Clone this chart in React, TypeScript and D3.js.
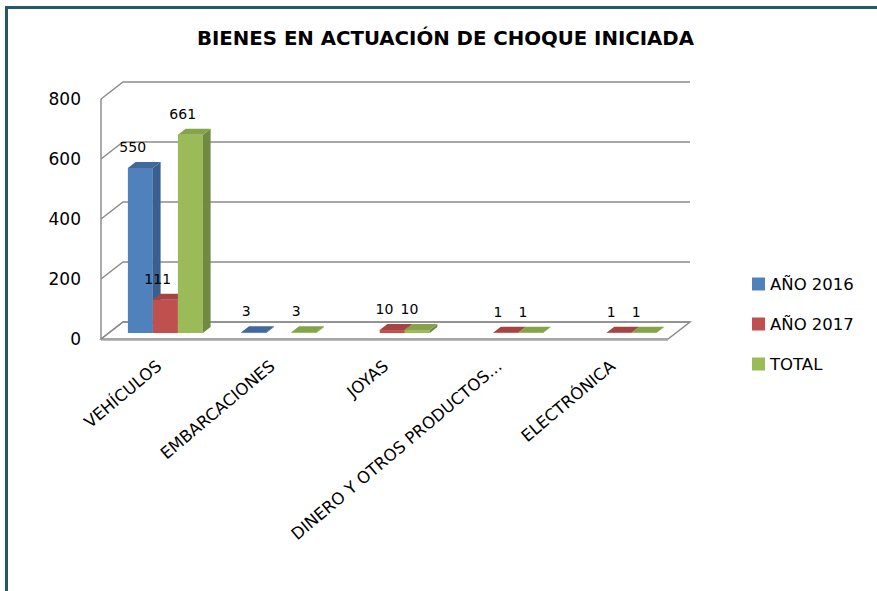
import { useRef, useEffect } from "react"
import * as d3 from "d3"

const categories = ["VEHÍCULOS", "EMBARCACIONES", "JOYAS", "DINERO Y OTROS PRODUCTOS...", "ELECTRÓNICA"]
const seriesNames = ["AÑO 2016", "AÑO 2017", "TOTAL"]
const values2016: (number | null)[] = [550, 3, null, null, null]
const values2017: (number | null)[] = [111, null, 10, 1, 1]
const valuesTotal: (number | null)[] = [661, 3, 10, 1, 1]
const yTicks = [0, 200, 400, 600, 800]
const chartTitle = "BIENES  EN  ACTUACIÓN  DE  CHOQUE  INICIADA"

// front, side, top shades per series
const palette = [
  ["#4F81BD", "#3A5F8C", "#41699C"],
  ["#C0504D", "#8E3B39", "#A54441"],
  ["#9BBB59", "#718A41", "#86A34B"],
]

export default function App() {
  const svgRef = useRef<SVGSVGElement>(null)

  function drawChart() {
    const width = 877
    const height = 591
    const fontFamily = "'DejaVu Sans', sans-serif"
    const series = [values2016, values2017, valuesTotal]

    const svg = d3.select(svgRef.current).attr("width", width).attr("height", height)
    svg.selectAll("*").remove()

    const depthX = 22
    const depthY = -17
    const x = d3.scaleBand<string>().domain(categories).range([101, 668])
    const y = d3.scaleLinear().domain([0, 800]).range([339, 99])
    const pt = (px: number, v: number, d: number) => [px + depthX * d, y(v) + depthY * d]
    const poly = (pts: number[][]) => "M" + pts.map((p) => p.join(",")).join("L") + "Z"

    svg.append("rect").attr("width", width).attr("height", height).attr("fill", "#fff")

    // frame
    svg
      .append("path")
      .attr("d", `M6.5,${height} V7.5 H${width}`)
      .attr("fill", "none")
      .attr("stroke", "#24596B")
      .attr("stroke-width", 3)

    // title
    svg
      .append("text")
      .text(chartTitle)
      .attr("x", 197)
      .attr("y", 45)
      .attr("textLength", 497)
      .attr("lengthAdjust", "spacingAndGlyphs")
      .style("font-size", "20px")
      .style("font-weight", "bold")
      .style("font-family", fontFamily)
      .attr("fill", "#000")

    // floor
    svg
      .append("path")
      .attr("d", poly([pt(101, 0, 0), pt(101, 0, 1), pt(668, 0, 1), pt(668, 0, 0)]))
      .attr("fill", "#fff")
      .attr("stroke", "#8c8c8c")
      .attr("stroke-width", 1.5)
    svg
      .append("line")
      .attr("x1", 101)
      .attr("x2", 668)
      .attr("y1", y(0) + 1)
      .attr("y2", y(0) + 1)
      .attr("stroke", "#a6a6a6")
      .attr("stroke-width", 1.5)

    // walls and gridlines
    const grid = svg.append("g").attr("stroke", "#8c8c8c").attr("stroke-width", 1.5).attr("fill", "none")
    grid.append("line").attr("x1", 101).attr("x2", 101).attr("y1", y(0)).attr("y2", y(800))
    grid
      .selectAll("path")
      .data(yTicks)
      .enter()
      .append("path")
      .attr("d", (v) => {
        const a = pt(101, v, 0)
        const b = pt(101, v, 1)
        const c = pt(668, v, 1)
        return `M${a}L${b}L${c}`
      })

    // y axis labels
    svg
      .append("g")
      .selectAll("text")
      .data(yTicks)
      .enter()
      .append("text")
      .text((d) => d)
      .attr("x", 81)
      .attr("y", (d) => y(d))
      .attr("dy", "0.36em")
      .attr("text-anchor", "end")
      .style("font-size", "17px")
      .style("font-family", fontFamily)
      .attr("fill", "#000")

    // bars
    const barW = 25
    const d0 = 0.35
    const d1 = 0.7
    const bars = svg.append("g")
    const labels = svg.append("g")
    categories.forEach((cat, j) => {
      series.forEach((vals, i) => {
        const v = vals[j]
        if (v == null) return
        const x0 = (x(cat) as number) + x.bandwidth() / 2 - (barW * 3) / 2 + i * barW
        const x1 = x0 + barW
        const [front, side, top] = palette[i]
        bars
          .append("path")
          .attr("d", poly([pt(x0, 0, d0), pt(x1, 0, d0), pt(x1, v, d0), pt(x0, v, d0)]))
          .attr("fill", front)
        bars
          .append("path")
          .attr("d", poly([pt(x1, 0, d0), pt(x1, 0, d1), pt(x1, v, d1), pt(x1, v, d0)]))
          .attr("fill", side)
        bars
          .append("path")
          .attr("d", poly([pt(x0, v, d0), pt(x1, v, d0), pt(x1, v, d1), pt(x0, v, d1)]))
          .attr("fill", top)
        labels
          .append("text")
          .text(v)
          .attr("x", x0 + barW / 2)
          .attr("y", pt(x0, v, d1)[1] - 10)
          .attr("text-anchor", "middle")
          .style("font-size", "14px")
          .style("font-family", fontFamily)
          .attr("fill", "#000")
      })
    })

    // category labels
    svg
      .append("g")
      .selectAll("text")
      .data(categories)
      .enter()
      .append("text")
      .text((d) => d)
      .attr("transform", (d) => `translate(${(x(d) as number) + x.bandwidth() / 2 + 5}, 368) rotate(-40)`)
      .attr("text-anchor", "end")
      .style("font-size", "16.5px")
      .style("font-family", fontFamily)
      .attr("fill", "#000")

    // legend
    const legend = svg
      .append("g")
      .selectAll("g")
      .data(seriesNames)
      .enter()
      .append("g")
      .attr("transform", (d, i) => `translate(752, ${284 + i * 40})`)
    legend
      .append("rect")
      .attr("x", 0)
      .attr("y", -6.5)
      .attr("width", 13)
      .attr("height", 13)
      .attr("fill", (d, i) => palette[i][0])
    legend
      .append("text")
      .text((d) => d)
      .attr("x", 18)
      .attr("y", 0)
      .attr("dy", "0.36em")
      .style("font-size", "16.5px")
      .style("font-family", fontFamily)
      .attr("fill", "#000")
  }

  useEffect(() => {
    drawChart()
  }, [svgRef])

  return (
    <div style={{ position: "absolute", left: 0, top: 0 }}>
      <svg ref={svgRef} style={{ display: "block" }}></svg>
    </div>
  )
}
